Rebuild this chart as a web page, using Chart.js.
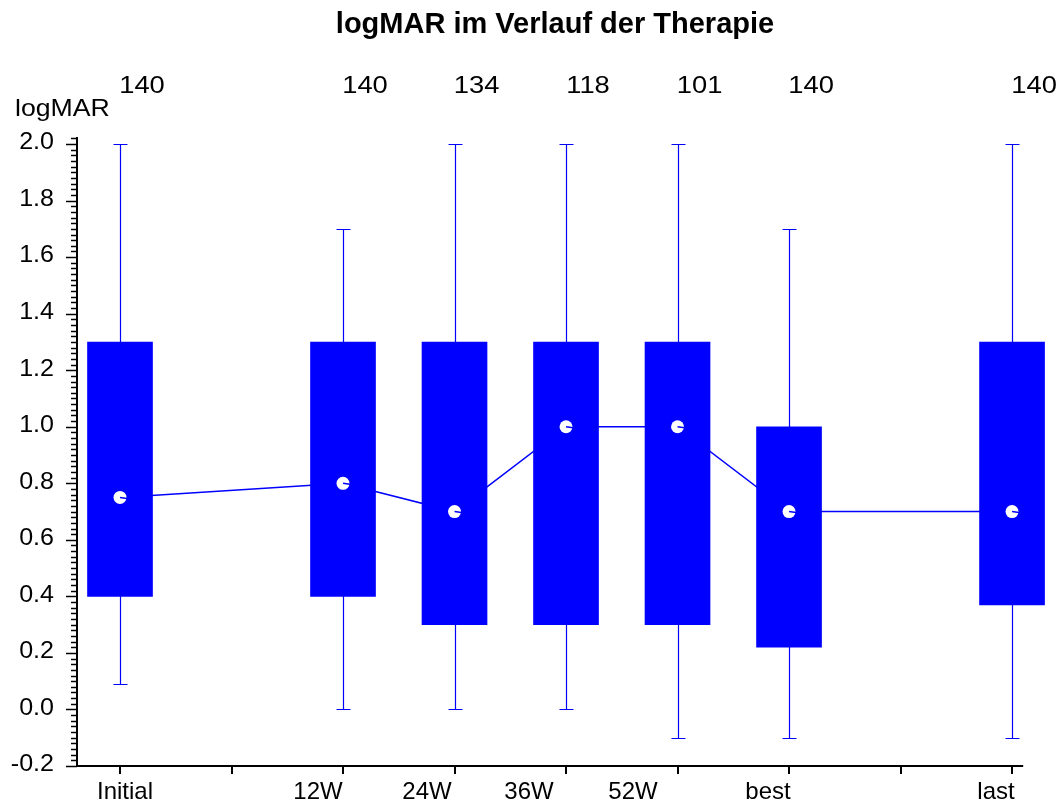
<!DOCTYPE html>
<html>
<head>
<meta charset="utf-8">
<script src="https://cdn.jsdelivr.net/npm/chart.js@4.4.0/dist/chart.umd.min.js"></script>
<style>
html,body{margin:0;padding:0;background:#fff;}
#c{display:block;}
</style>
</head>
<body>
<canvas id="c" width="1060" height="803"></canvas>
<script>
// ---- data ----
const categories   = ['Initial', '12W', '24W', '36W', '52W', 'best', 'last'];
const positions    = [0, 2, 3, 4, 5, 6, 8];
const counts       = [140, 140, 134, 118, 101, 140, 140];
const whiskerLow   = [0.09, 0.0, 0.0, 0.0, -0.1, -0.1, -0.1];
const quartile1    = [0.40, 0.40, 0.30, 0.30, 0.30, 0.22, 0.37];
const medians      = [0.75, 0.80, 0.70, 1.00, 1.00, 0.70, 0.70];
const quartile3    = [1.30, 1.30, 1.30, 1.30, 1.30, 1.00, 1.30];
const whiskerHigh  = [2.00, 1.70, 2.00, 2.00, 2.00, 1.70, 2.00];
const xTickValues  = [0, 1, 2, 3, 4, 5, 6, 7, 8];
const xTickLabels  = ['Initial', '', '12W', '24W', '36W', '52W', 'best', '', 'last'];
const yTickValues  = [-0.2, 0.0, 0.2, 0.4, 0.6, 0.8, 1.0, 1.2, 1.4, 1.6, 1.8, 2.0];
const yTickLabels  = ['-0.2', '0.0', '0.2', '0.4', '0.6', '0.8', '1.0', '1.2', '1.4', '1.6', '1.8', '2.0'];
const yMinorStep   = 0.02;
const titleText    = 'logMAR im Verlauf der Therapie';
const yAxisTitle   = 'logMAR';

// ---- style (label nudges, px) ----
const xLabelShift  = [5, 0, -25, -28, -37, -45, -21, 0, -16];
const BLUE = '#0000ff';
const FONT = "'Liberation Sans', Arial, sans-serif";

const boxData    = positions.map((p, i) => ({x: p, y: [quartile1[i], quartile3[i]]}));
const medianData = positions.map((p, i) => ({x: p, y: medians[i]}));

function stretchedText(ctx, text, x, y, sx) {
  ctx.save();
  ctx.translate(x, y);
  ctx.scale(sx, 1);
  ctx.fillText(text, 0, 0);
  ctx.restore();
}

const customDraw = {
  id: 'customDraw',
  beforeDatasetsDraw(chart) {
    const ctx = chart.ctx, xs = chart.scales.x, ys = chart.scales.y;
    ctx.save();
    ctx.strokeStyle = BLUE;
    ctx.lineWidth = 1.2;
    positions.forEach((p, i) => {
      const x = Math.round(xs.getPixelForValue(p)) + 0.5;
      const yl = Math.round(ys.getPixelForValue(whiskerLow[i])) + 0.5;
      const yh = Math.round(ys.getPixelForValue(whiskerHigh[i])) + 0.5;
      ctx.beginPath();
      ctx.moveTo(x, yl); ctx.lineTo(x, yh);
      ctx.moveTo(x - 7, yl); ctx.lineTo(x + 7, yl);
      ctx.moveTo(x - 7, yh); ctx.lineTo(x + 7, yh);
      ctx.stroke();
    });
    ctx.restore();
  },
  afterDatasetsDraw(chart) {
    const ctx = chart.ctx, xs = chart.scales.x, ys = chart.scales.y;
    ctx.save();
    ctx.strokeStyle = BLUE;
    ctx.lineWidth = 1.5;
    positions.forEach((p, i) => {
      const x = xs.getPixelForValue(p), y = ys.getPixelForValue(medians[i]);
      ctx.beginPath(); ctx.moveTo(x, y); ctx.lineTo(x + 7, y + 1); ctx.stroke();
    });
    ctx.restore();
  },
  afterDraw(chart) {
    const ctx = chart.ctx, xs = chart.scales.x, ys = chart.scales.y;
    const area = chart.chartArea;
    const axX = area.left, axY = area.bottom;
    ctx.save();
    ctx.strokeStyle = '#000';
    ctx.fillStyle = '#000';
    ctx.lineWidth = 2;
    ctx.beginPath();
    ctx.moveTo(axX, area.top); ctx.lineTo(axX, axY + 1);
    ctx.stroke();
    ctx.beginPath();
    ctx.moveTo(axX - 1, axY); ctx.lineTo(xs.getPixelForValue(8.1), axY);
    ctx.stroke();
    ctx.lineWidth = 1.5;
    const nMin = Math.round(ys.min / yMinorStep), nMax = Math.floor(ys.max / yMinorStep + 1e-6);
    for (let n = nMin; n <= nMax; n++) {
      const y = Math.round(ys.getPixelForValue(n * yMinorStep)) + 0.5;
      const major = n % 10 === 0;
      ctx.beginPath();
      ctx.moveTo(axX - (major ? 11 : 6), y); ctx.lineTo(axX, y);
      ctx.stroke();
    }
    ctx.font = '23px ' + FONT;
    ctx.textAlign = 'right';
    ctx.textBaseline = 'middle';
    yTickValues.forEach((v, i) => {
      stretchedText(ctx, yTickLabels[i], 54, ys.getPixelForValue(v) - 1, 1.09);
    });
    ctx.lineWidth = 2;
    ctx.textAlign = 'center';
    ctx.textBaseline = 'alphabetic';
    ctx.font = '24px ' + FONT;
    xTickValues.forEach((v, i) => {
      const x = Math.round(xs.getPixelForValue(v));
      ctx.beginPath(); ctx.moveTo(x, axY); ctx.lineTo(x, axY + 8); ctx.stroke();
      if (xTickLabels[i]) ctx.fillText(xTickLabels[i], x + xLabelShift[i], 799);
    });
    ctx.font = '24px ' + FONT;
    ctx.textBaseline = 'middle';
    positions.forEach((p, i) => {
      stretchedText(ctx, String(counts[i]), xs.getPixelForValue(p) + 22, 86, 1.14);
    });
    ctx.textAlign = 'left';
    ctx.font = '24px ' + FONT;
    stretchedText(ctx, yAxisTitle, 15, 109, 1.11);
    ctx.restore();
  }
};

new Chart(document.getElementById('c'), {
  data: {
    datasets: [
      {
        type: 'line',
        label: 'Median-Verlauf',
        data: medianData,
        borderColor: BLUE,
        borderWidth: 1.5,
        pointRadius: 0,
        fill: false,
        tension: 0,
        order: 3
      },
      {
        type: 'bar',
        label: 'Quartile',
        data: boxData,
        backgroundColor: BLUE,
        borderWidth: 0,
        borderSkipped: false,
        barThickness: 65,
        grouped: false,
        clip: false,
        order: 2
      },
      {
        type: 'line',
        label: 'Median',
        data: medianData,
        showLine: false,
        pointRadius: 6.5,
        pointBackgroundColor: '#ffffff',
        pointBorderWidth: 0,
        pointBorderColor: '#ffffff',
        order: 1
      }
    ]
  },
  options: {
    responsive: false,
    animation: false,
    events: [],
    layout: { padding: { left: 77, right: 27, top: 0, bottom: 37 } },
    scales: {
      x: { type: 'linear', min: -0.3857, max: 8.188, display: false, offset: false },
      y: { type: 'linear', min: -0.2, max: 2.025, display: false }
    },
    plugins: {
      legend: { display: false },
      tooltip: { enabled: false },
      title: {
        display: true,
        text: titleText,
        color: '#000',
        font: { family: FONT, size: 29, weight: 'bold', lineHeight: 1.2 },
        padding: { top: 8, bottom: 94.2 }
      }
    }
  },
  plugins: [customDraw]
});
</script>
</body>
</html>
